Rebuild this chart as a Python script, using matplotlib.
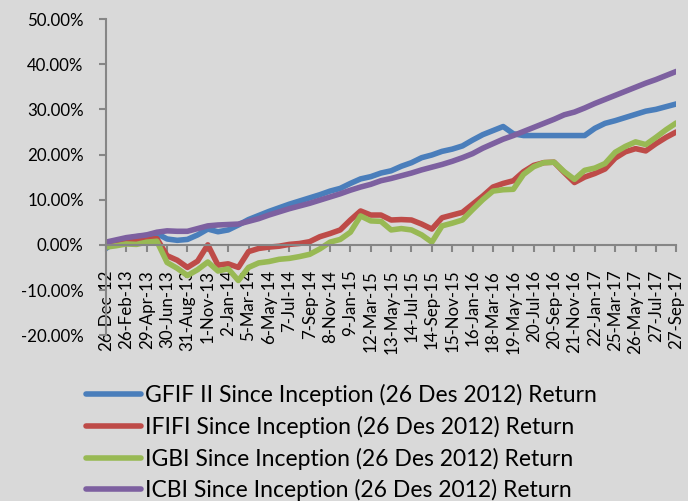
import pandas as pd
import matplotlib
matplotlib.use('Agg')
from matplotlib import pyplot as plt
from matplotlib.ticker import FuncFormatter

plt.rcParams['font.family'] = ['Lato', 'DejaVu Sans']

# tick labels on the date axis (every 62 days)
tick_labels = ['26-Dec-12', '26-Feb-13', '29-Apr-13', '30-Jun-13', '31-Aug-13', '1-Nov-13',
               '2-Jan-14', '5-Mar-14', '6-May-14', '7-Jul-14', '7-Sep-14', '8-Nov-14',
               '9-Jan-15', '12-Mar-15', '13-May-15', '14-Jul-15', '14-Sep-15', '15-Nov-15',
               '16-Jan-16', '18-Mar-16', '19-May-16', '20-Jul-16', '20-Sep-16', '21-Nov-16',
               '22-Jan-17', '25-Mar-17', '26-May-17', '27-Jul-17', '27-Sep-17']

# sample points every 31 days from 26-Dec-12, returns in %
sample_step_days = 31

gfif = [-0.8, 0.8, 1.4, 1.8, 2.1, 2.5, 1.3, 1.0, 1.2, 2.2, 3.5, 2.9, 3.3, 4.4, 5.6,
        6.5, 7.4, 8.2, 9.0, 9.7, 10.4, 11.1, 11.9, 12.5, 13.6, 14.6, 15.1, 15.9, 16.4,
        17.4, 18.2, 19.3, 19.9, 20.7, 21.2, 21.9, 23.2, 24.4, 25.3, 26.2, 24.6, 24.2,
        24.2, 24.2, 24.2, 24.2, 24.2, 24.2, 25.8, 26.9, 27.5, 28.2, 28.9, 29.6, 30.0,
        30.6, 31.2]

ififi = [0.0, 0.4, 0.7, 0.9, 1.1, 1.4, -2.4, -3.4, -5.0, -3.6, 0.0, -4.5, -4.2, -5.0,
         -1.5, -0.8, -0.5, -0.3, 0.1, 0.3, 0.7, 1.8, 2.5, 3.3, 5.5, 7.5, 6.6, 6.6, 5.5,
         5.6, 5.5, 4.6, 3.5, 6.0, 6.6, 7.2, 9.0, 10.8, 12.8, 13.6, 14.2, 16.2, 17.6,
         18.2, 18.3, 16.0, 13.8, 15.0, 15.8, 16.8, 19.2, 20.6, 21.3, 20.8, 22.4, 23.8,
         25.0]

igbi = [-0.5, -0.2, 0.2, 0.1, 0.6, 0.8, -3.9, -5.2, -6.8, -5.5, -3.8, -5.8, -5.3, -7.9,
        -5.0, -4.0, -3.7, -3.2, -3.0, -2.6, -2.1, -0.9, 0.6, 1.2, 2.8, 6.4, 5.3, 5.2,
        3.3, 3.6, 3.3, 2.2, 0.6, 4.2, 4.8, 5.5, 7.8, 10.0, 11.9, 12.2, 12.3, 15.6, 17.3,
        18.2, 18.3, 16.2, 14.5, 16.5, 17.0, 18.0, 20.5, 21.8, 22.8, 22.2, 23.8, 25.5,
        27.0]

icbi = [0.6, 1.1, 1.6, 1.9, 2.2, 2.8, 3.1, 3.0, 3.0, 3.6, 4.2, 4.4, 4.5, 4.6, 5.2, 5.8,
        6.6, 7.3, 8.0, 8.6, 9.2, 9.9, 10.6, 11.3, 12.1, 12.8, 13.4, 14.2, 14.7, 15.3,
        15.9, 16.6, 17.2, 17.8, 18.5, 19.3, 20.2, 21.4, 22.4, 23.4, 24.2, 25.1, 26.0,
        26.9, 27.8, 28.8, 29.4, 30.3, 31.3, 32.2, 33.1, 34.0, 34.9, 35.8, 36.6, 37.5,
        38.4]

series_names = ['GFIF II Since Inception (26 Des 2012) Return',
                'IFIFI Since Inception (26 Des 2012) Return',
                'IGBI Since Inception (26 Des 2012) Return',
                'ICBI Since Inception (26 Des 2012) Return']
colors = ['#4A7EBB', '#BE4B48', '#98B954', '#7D60A0']

tick_dates = pd.to_datetime(tick_labels, format='%d-%b-%y')
dates = tick_dates[0] + pd.to_timedelta([i * sample_step_days for i in range(len(gfif))], unit='D')

bg = '#D9D9D9'
fig = plt.figure(figsize=(6.88, 5.01), dpi=100, facecolor=bg)
ax = fig.add_axes([0.154, 0.331, 0.829, 0.631], facecolor=bg)

for vals, name, c in zip([gfif, ififi, igbi, icbi], series_names, colors):
    ax.plot(dates, vals, color=c, lw=4, label=name, solid_joinstyle='round',
            solid_capstyle='round')

# axis line through 0% (set before ticks, it resets them)
for s in ['top', 'right']:
    ax.spines[s].set_visible(False)
ax.spines['bottom'].set_position(('data', 0))
for s in ['left', 'bottom']:
    ax.spines[s].set_color('#868686')
    ax.spines[s].set_linewidth(1.5)

ax.set_xlim(tick_dates[0], tick_dates[-1])
ax.set_ylim(-20, 50)
ax.set_yticks(range(-20, 51, 10))
ax.yaxis.set_major_formatter(FuncFormatter(lambda v, p: f'{v:.2f}%'))
ax.set_xticks(tick_dates)
ax.set_xticklabels(tick_labels)

ax.tick_params(axis='both', colors='#868686', labelcolor='black', labelsize=12.2,
               width=1.5, length=5, direction='out')
ax.tick_params(axis='x', pad=13, labelrotation=90)
ax.tick_params(axis='y', pad=11)
plt.setp(ax.get_xticklabels(), va='top', ha='center')

fig.legend(loc='upper left', bbox_to_anchor=(0.108, 0.256), frameon=False,
           fontsize=16.5, handlelength=2.4, handletextpad=0.17, labelspacing=0.42,
           borderpad=0)

fig.savefig('out.png', dpi=100, facecolor=bg)
